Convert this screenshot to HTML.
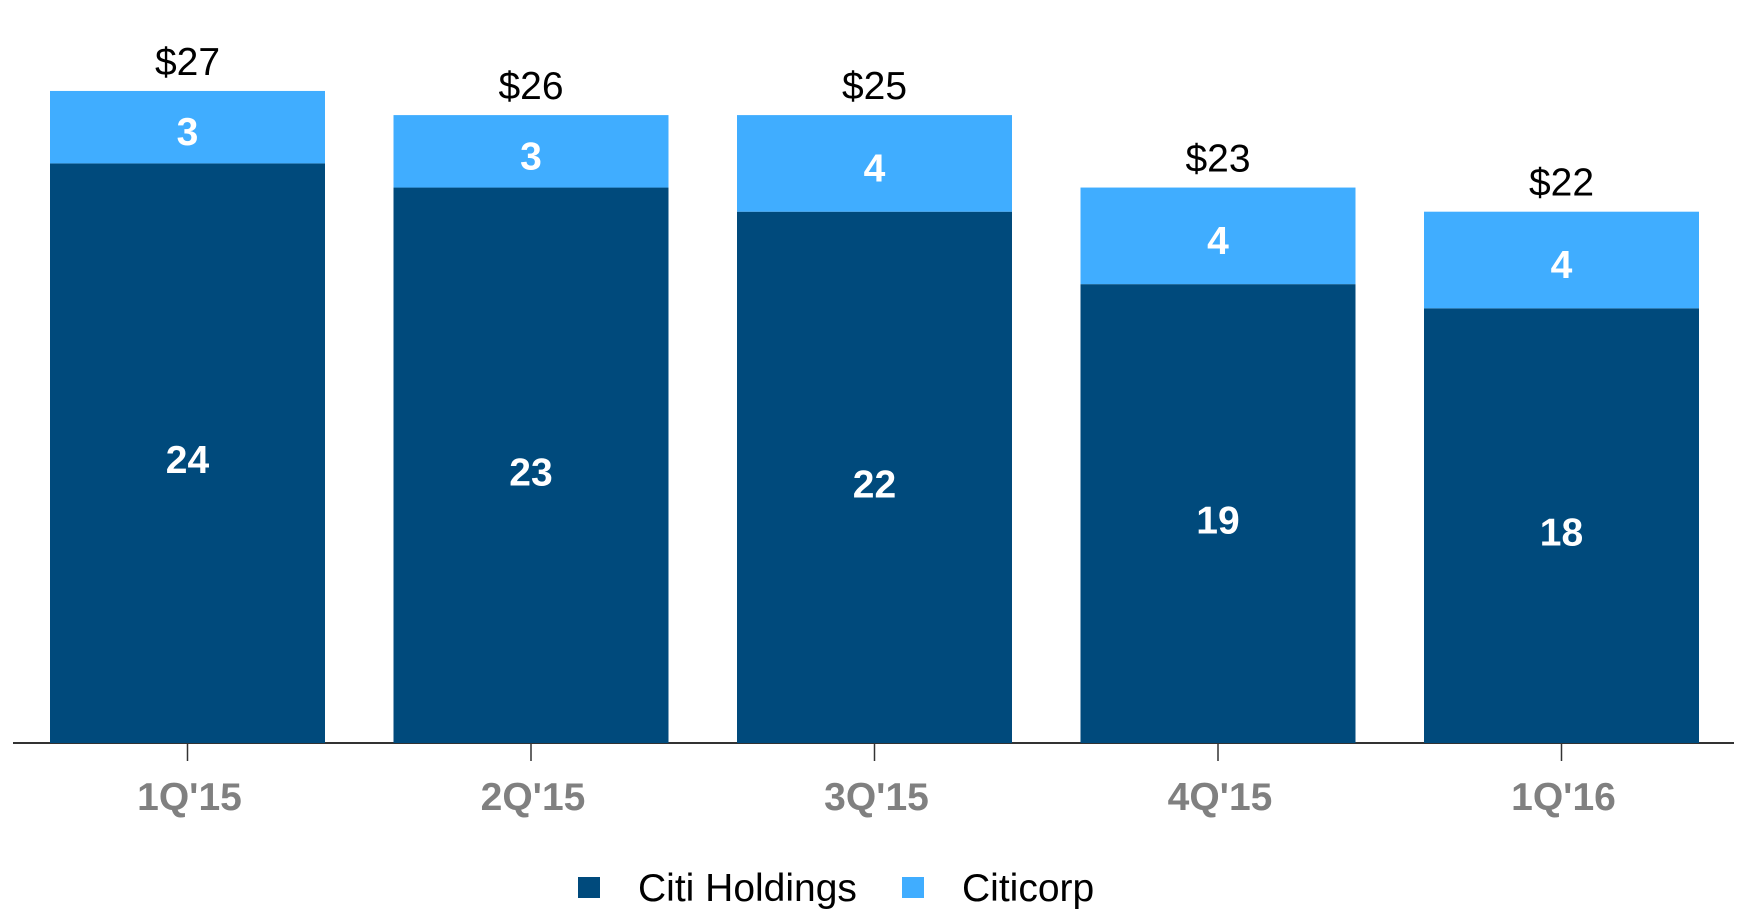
<!DOCTYPE html>
<html><head><meta charset="utf-8"><style>
html,body{margin:0;padding:0;background:#fff;}
svg{display:block;font-family:"Liberation Sans",Arial,sans-serif;}
</style></head><body>
<svg id="chart" width="1741" height="921">
<line x1="13" y1="743" x2="1734" y2="743" stroke="#333" stroke-width="2"/>
<g id="bars"></g>
<g>
<rect x="578" y="877" width="22" height="21" fill="#004a7c"/>
<text x="638" y="901" font-size="39" fill="#000">Citi Holdings</text>
<rect x="902" y="877" width="22" height="21" fill="#40adff"/>
<text x="962" y="901" font-size="39" fill="#000">Citicorp</text>
</g>
</svg>
<script>
const categories=["1Q'15","2Q'15","3Q'15","4Q'15","1Q'16"];
const citiHoldings=[24,23,22,19,18];
const citicorp=[3,3,4,4,4];
const totals=["$27","$26","$25","$23","$22"];
const NS="http://www.w3.org/2000/svg";
const g=document.getElementById('bars');
const baseY=743, pxPerUnit=24.15, x0=50, pitch=343.5, bw=275;
const y=v=>baseY-v*pxPerUnit;
const xc=i=>x0+i*pitch;
function mk(tag,attrs){const e=document.createElementNS(NS,tag);for(const k in attrs)e.setAttribute(k,attrs[k]);g.appendChild(e);return e;}
categories.forEach((c,i)=>{
  const x=xc(i), h=citiHoldings[i], t=h+citicorp[i];
  const r1=mk('rect',{x:x,y:y(h),width:bw,height:baseY-y(h),fill:'#004a7c'});
  
  
  const r2=mk('rect',{x:x,y:y(t),width:bw,height:y(h)-y(t),fill:'#40adff'});
  
  
  const cx=x+bw/2;
  const l1=mk('text',{x:cx,y:(y(h)+baseY)/2+20,'text-anchor':'middle','font-size':'39','font-weight':'bold',fill:'#fff'});
  l1.textContent=h;
  
  
  const l2=mk('text',{x:cx,y:(y(t)+y(h))/2+18,'text-anchor':'middle','font-size':'39','font-weight':'bold',fill:'#fff'});
  l2.textContent=citicorp[i];
  
  
  const l3=mk('text',{x:cx,y:y(t)-16,'text-anchor':'middle','font-size':'39',fill:'#000'});
  l3.textContent=totals[i];
  
  
  const tk=mk('line',{x1:cx,y1:744,x2:cx,y2:761,stroke:'#333','stroke-width':'1.5'});
  
  
  const cl=mk('text',{x:cx+2,y:810,'text-anchor':'middle','font-size':'39','font-weight':'bold',fill:'#808080'});
  cl.textContent=c;
  
  
});
</script>
</body></html>
